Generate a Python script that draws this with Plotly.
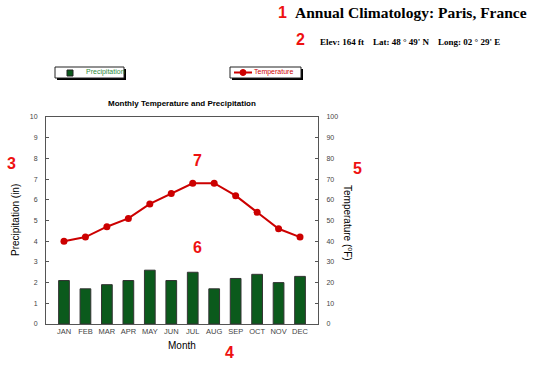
import plotly.graph_objects as go

months = ["JAN", "FEB", "MAR", "APR", "MAY", "JUN", "JUL", "AUG", "SEP", "OCT", "NOV", "DEC"]
precip_in = [2.1, 1.7, 1.9, 2.1, 2.6, 2.1, 2.5, 1.7, 2.2, 2.4, 2.0, 2.3]
temp_f = [40, 42, 47, 51, 58, 63, 68, 68, 62, 54, 46, 42]

W, H = 534, 365
L, R, T, B = 46, 318, 117, 324

def px(x):
    return (x - L) / (R - L)

def py(y):
    return (B - y) / (B - T)

GREEN = "#0b5a1c"
RED = "#cc0000"
TICK = "#444444"

fig = go.Figure()
fig.add_trace(go.Bar(x=months, y=precip_in, marker=dict(color=GREEN, line=dict(color="#333333", width=1)),
                     yaxis="y", showlegend=False))
fig.add_trace(go.Scatter(x=months, y=temp_f, mode="lines+markers", yaxis="y2",
                         line=dict(color=RED, width=2), marker=dict(color=RED, size=7), showlegend=False))

axis_font = dict(family="Liberation Sans, Arial", size=7, color=TICK)
fig.update_layout(
    width=W, height=H, autosize=False,
    margin=dict(l=L, r=W - R, t=T, b=H - B, pad=0),
    paper_bgcolor="white", plot_bgcolor="white",
    bargap=0.5,
    xaxis=dict(showline=True, linecolor="#555555", linewidth=1, mirror=True, ticks="",
               tickfont=dict(family="Liberation Sans, Arial", size=7.5, color=TICK),
               showgrid=False, zeroline=False),
    yaxis=dict(range=[0, 10], dtick=1, showline=True, linecolor="#555555", linewidth=1,
               ticks="inside", ticklen=3, tickcolor="#555555", tickfont=axis_font,
               showgrid=False, zeroline=False, ticklabelstandoff=6),
    yaxis2=dict(range=[0, 100], dtick=10, overlaying="y", side="right", showline=True,
                linecolor="#555555", linewidth=1, ticks="inside", ticklen=3, tickcolor="#555555",
                tickfont=axis_font, showgrid=False, zeroline=False, ticklabelstandoff=6),
)

shapes = []
annotations = []

def box(x0, y0, x1, y1):
    shapes.append(dict(type="rect", xref="paper", yref="paper", x0=px(x0 + 2), x1=px(x1 + 2),
                       y0=py(y1 + 2), y1=py(y0 + 2), fillcolor="black", line=dict(width=0)))
    shapes.append(dict(type="rect", xref="paper", yref="paper", x0=px(x0), x1=px(x1),
                       y0=py(y1), y1=py(y0), fillcolor="white", line=dict(color="#222222", width=1)))

box(55, 67, 124, 78)
box(230, 67, 301, 78)
shapes.append(dict(type="rect", xref="paper", yref="paper", x0=px(67), x1=px(73), y0=py(76), y1=py(70),
                   fillcolor=GREEN, line=dict(color="#222222", width=1)))
shapes.append(dict(type="line", xref="paper", yref="paper", x0=px(234), x1=px(252), y0=py(72.5), y1=py(72.5),
                   line=dict(color=RED, width=2)))
shapes.append(dict(type="circle", xref="paper", yref="paper", x0=px(240), x1=px(246), y0=py(75.5), y1=py(69.5),
                   fillcolor=RED, line=dict(color=RED, width=1)))

def ann(text, x, y, size, color="black", family="Liberation Sans, Arial", xanchor="center", angle=0, bold=False):
    if bold:
        text = "<b>" + text + "</b>"
    annotations.append(dict(text=text, x=px(x), y=py(y), xref="paper", yref="paper", showarrow=False,
                            xanchor=xanchor, yanchor="middle", textangle=angle,
                            font=dict(size=size, color=color, family=family)))

SP = "&nbsp;&nbsp;&nbsp;&nbsp;"
ann("Precipitation", 84, 72.5, 7, color="#2e8b3a", xanchor="left")
ann("Temperature", 252, 72.5, 7, color=RED, xanchor="left")
ann("Monthly Temperature and Precipitation", 182, 104, 8, bold=True)
ann("Annual Climatology: Paris, France", 293, 12, 15.5, family="Liberation Serif, Times New Roman", xanchor="left", bold=True)
ann("Elev: 164 ft" + SP + "Lat: 48 ° 49' N" + SP + "Long: 02 ° 29' E", 318, 42, 9,
    family="Liberation Serif, Times New Roman", xanchor="left", bold=True)
ann("Precipitation (in)", 15, 220, 10, angle=-90)
ann("Temperature (<sup>o</sup>F)", 348, 223, 10, angle=90)
ann("Month", 182, 345, 10)

for t, x, y in [("1", 282, 12), ("2", 300, 39), ("3", 11, 163), ("4", 229, 352),
                ("5", 357, 168), ("6", 197, 248), ("7", 197, 160)]:
    ann(t, x, y, 16, color="#ee1111", family="Liberation Sans, Arial", bold=True)

fig.update_layout(shapes=shapes, annotations=annotations)
fig.write_html("out.html", config={"displayModeBar": False},
               post_script="document.body.style.margin='0';")
